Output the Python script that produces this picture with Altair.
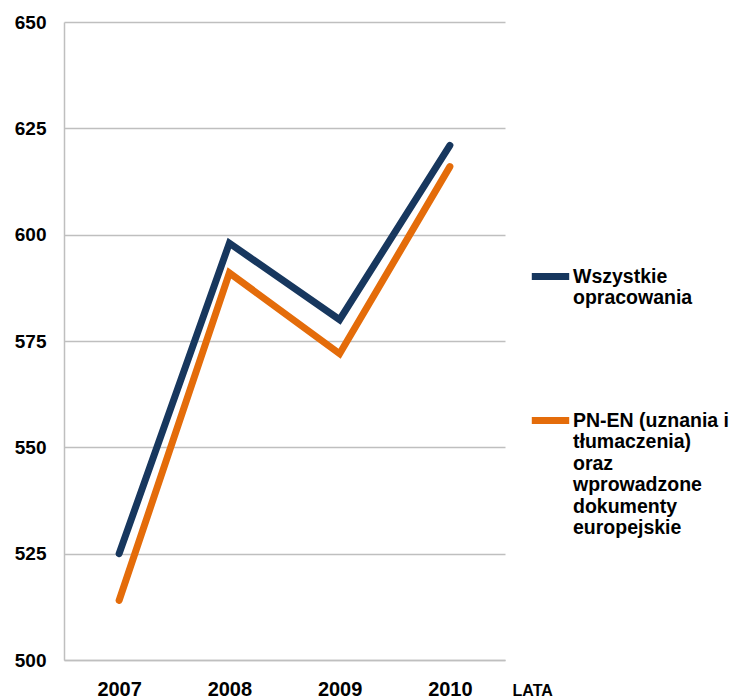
import altair as alt
import pandas as pd

years = ["2007", "2008", "2009", "2010"]
series_names = [
    "Wszystkie opracowania",
    "PN-EN (uznania i tłumaczenia) oraz wprowadzone dokumenty europejskie",
]
wszystkie = [525, 598, 580, 621]
pn_en = [514, 591, 572, 616]
colors = ["#17375E", "#E46C0A"]
y_ticks = [500, 525, 550, 575, 600, 625, 650]

rows = []
for y, v in zip(years, wszystkie):
    rows.append({"rok": y, "wartosc": v, "seria": series_names[0]})
for y, v in zip(years, pn_en):
    rows.append({"rok": y, "wartosc": v, "seria": series_names[1]})
df = pd.DataFrame(rows)

FONT = "Liberation Sans"

label_expr = (
    "datum.label == 'Wszystkie opracowania' ? ['Wszystkie', 'opracowania'] : "
    "['PN-EN (uznania i', 'tłumaczenia)', 'oraz', 'wprowadzone', 'dokumenty', 'europejskie']"
)

chart = (
    alt.Chart(df)
    .mark_line(strokeWidth=7, strokeCap="round", strokeJoin="miter")
    .encode(
        x=alt.X(
            "rok:N",
            sort=years,
            scale=alt.Scale(paddingOuter=0.5),
            axis=alt.Axis(
                title="LATA",
                titleFont=FONT,
                titleFontSize=16,
                titleFontWeight="bold",
                titleColor="#000000",
                titleAnchor="start",
                titleAlign="left",
                titleBaseline="alphabetic",
                titleX=448,
                titleY=35,
                labelAngle=0,
                labelFont=FONT,
                labelFontSize=20,
                labelFontWeight="bold",
                labelColor="#000000",
                labelPadding=19,
                ticks=False,
                domainColor="#BFBFBF",
                domainWidth=1.5,
                grid=False,
            ),
        ),
        y=alt.Y(
            "wartosc:Q",
            scale=alt.Scale(domain=[500, 650], nice=False, zero=False),
            axis=alt.Axis(
                title=None,
                values=y_ticks,
                labelFont=FONT,
                labelFontSize=19,
                labelFontWeight="bold",
                labelColor="#000000",
                labelPadding=18,
                ticks=False,
                domainColor="#BFBFBF",
                domainWidth=1.5,
                grid=True,
                gridColor="#BFBFBF",
                gridWidth=1.5,
            ),
        ),
        color=alt.Color(
            "seria:N",
            sort=series_names,
            scale=alt.Scale(domain=series_names, range=colors),
            legend=alt.Legend(
                title=None,
                orient="none",
                legendX=464,
                legendY=232,
                symbolType="stroke",
                symbolStrokeWidth=7,
                symbolSize=1400,
                labelExpr=label_expr,
                labelFont=FONT,
                labelFontSize=19.5,
                labelFontWeight="bold",
                labelColor="#000000",
                labelBaseline="middle",
                labelLimit=300,
                labelOffset=0,
                rowPadding=90,
            ),
        ),
    )
    .properties(width=441, height=638, padding={"left": 56, "top": 14, "right": 226, "bottom": 50})
    .configure(autosize=alt.AutoSizeParams(type="none"))
    .configure_view(stroke=None)
    .configure_text(lineHeight=22)
)

chart.save("out.html", embed_options={"renderer": "svg", "actions": False})
